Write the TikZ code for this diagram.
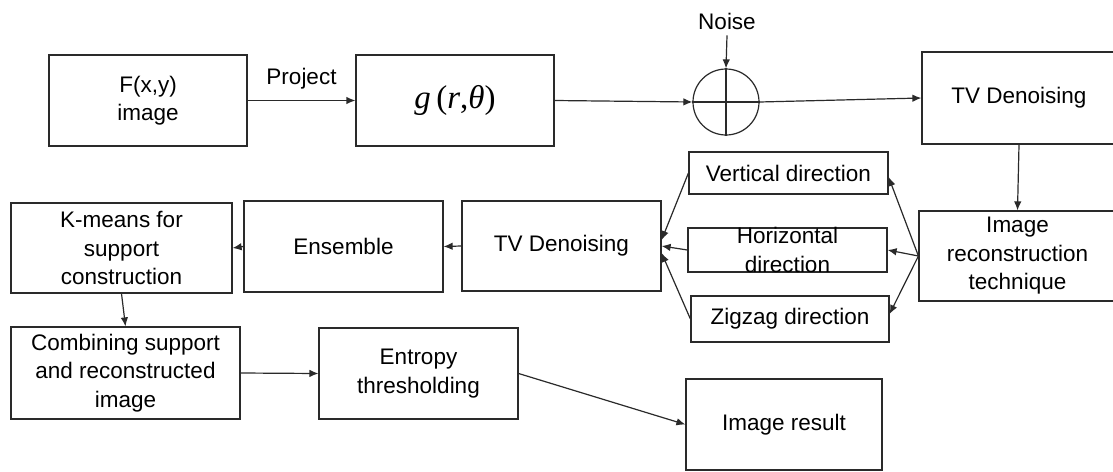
\documentclass[tikz,border=0pt]{standalone}
\usepackage{fontspec}
\setmainfont{Liberation Sans}
\newfontfamily\serifmath{Liberation Serif}
\usetikzlibrary{arrows.meta}
\definecolor{ink}{HTML}{2A2A2A}
\begin{document}
\begin{tikzpicture}[x=1pt,y=-1pt,
  box/.style={draw=ink, line width=1.2pt, rectangle, inner sep=0pt, align=center,
              font=\fontsize{22.5}{28.5}\selectfont, text=black},
  lbl/.style={font=\fontsize{22.5}{28.5}\selectfont, inner sep=0pt, align=center, text=black},
  arr/.style={draw=ink, line width=1.2pt, -{Latex[length=9pt,width=7.5pt]}},
  wire/.style={draw=ink, line width=1.2pt}]
\useasboundingbox (0,0) rectangle (1113,471);
\fill[white] (0,0) rectangle (1113,471);

% top row
\node[box, minimum width=198pt, minimum height=91pt] (F) at (148,100.5) {F(x,y)\\image};
\node[box, minimum width=198pt, minimum height=91pt] (G) at (455,100.5)
  {\fontsize{33}{33}\serifmath\itshape g\,\upshape(\itshape r\upshape,\itshape θ\upshape)};
\node[draw=ink, line width=1.2pt, circle, minimum size=66pt, inner sep=0pt] (S) at (726,102) {};
\draw[wire] (S.north) -- (S.south);
\draw[wire] (S.west) -- (S.east);
\node[lbl] (N) at (727,21) {Noise};
\node[box, minimum width=194pt, minimum height=92pt] (TVa) at (1019,98) {TV Denoising};

% direction branches
\node[box, minimum width=197pt, minimum height=90pt] (R) at (1017.5,256) {Image\\reconstruction\\technique};
\node[box, minimum width=199pt, minimum height=42pt] (V) at (788.5,173) {Vertical direction};
\node[box, minimum width=199pt, minimum height=44pt] (H) at (787.5,250) {};
\node[lbl] at (H.center) {Horizontal\\direction};
\node[box, minimum width=198pt, minimum height=46pt] (Z) at (790,319) {Zigzag direction};

% middle row
\node[box, minimum width=199pt, minimum height=90pt] (TVb) at (561.5,246) {TV Denoising};
\node[box, minimum width=199pt, minimum height=91pt] (E) at (343.5,246.5) {Ensemble};
\node[box, minimum width=221pt, minimum height=90pt] (K) at (121.5,248) {K-means for\\support\\construction};

% bottom row
\node[box, minimum width=229pt, minimum height=92pt] (C) at (125.5,373) {Combining support\\and reconstructed\\image};
\node[box, minimum width=199pt, minimum height=91pt] (En) at (418.5,373.5) {Entropy\\thresholding};
\node[box, minimum width=196pt, minimum height=91pt] (IR) at (784,424.5) {Image result};

% connectors
\draw[arr] (F.east) -- node[lbl, above=11pt] {Project} (G.west);
\draw[arr] (G.east) -- (S.west);
\draw[arr] ([yshift=-6pt]N.south) -- (S.north);
\draw[arr] (S.east) -- (TVa.west);
\draw[arr] (TVa.south) -- (R.north);
\draw[arr] (R.west) -- ([yshift=-4pt]V.east);
\draw[arr] (R.west) -- (H.east);
\draw[arr] (R.west) -- ([yshift=5pt]Z.east);
\draw[arr] (V.west) -- ([yshift=6pt]TVb.east);
\draw[arr] (H.west) -- (TVb.east);
\draw[arr] (Z.west) -- ([yshift=-7pt]TVb.east);
\draw[arr] (TVb.west) -- (E.east);
\draw[arr] (E.west) -- (K.east);
\draw[arr] (K.south) -- (C.north);
\draw[arr] (C.east) -- (En.west);
\draw[arr] (En.east) -- (IR.west);
\end{tikzpicture}
\end{document}
